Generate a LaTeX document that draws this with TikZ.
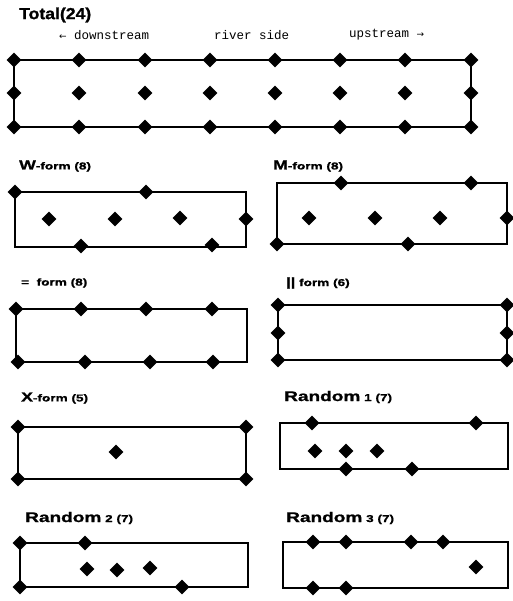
\documentclass[tikz,border=0pt]{standalone}
\usepackage{fontspec}
\setmainfont{Liberation Sans}
\newfontfamily\monof{Liberation Mono}
\newfontfamily\arrowf{DejaVu Sans}
\newfontfamily\widef[FakeStretch=1.36, BoldFeatures={FakeBold=1.2}]{Liberation Sans}
\newfontfamily\totf[FakeStretch=1.1, BoldFeatures={FakeBold=1.2}]{Liberation Sans}
\usetikzlibrary{shapes.geometric}
\tikzset{
  dia/.style={diamond, fill=black, draw=none, inner sep=0pt, minimum size=15pt},
  frame/.style={draw=black, line width=1.1pt},
  ttl/.style={anchor=west, inner sep=0pt, font=\widef\bfseries},
  lab/.style={anchor=west, inner sep=0pt, font=\monof\fontsize{12.5}{13}\selectfont}
}
\newcommand{\myBigT}[1]{{\fontsize{13}{14}\selectfont #1}}
\newcommand{\mySmT}[1]{{\fontsize{10}{11}\selectfont #1}}
\newcommand{\myRndT}[1]{{\fontsize{14}{15}\selectfont #1}}
\begin{document}
\begin{tikzpicture}[x=1pt,y=-1pt]
\useasboundingbox (0,0) rectangle (512,601);
% ---------- Total ----------
\node[ttl, font=\totf\bfseries\fontsize{16}{17}\selectfont] (tT) at (19,15) {Total(24)};
\node[lab] (l1) at (59,35) {{\arrowf\fontsize{9}{10}\selectfont ←} downstream};
\node[lab] (l2) at (214,35) {river side};
\node[lab] (l3) at (349,35) {upstream {\arrowf\fontsize{9}{10}\selectfont →}};
\draw[frame] (14,60) rectangle (471,127);
\foreach \x [count=\i] in {14,79,145,210,275,340,405,471} {
  \node[dia] (ta\i) at (\x,60) {};
  \node[dia] (tb\i) at (\x,93) {};
  \node[dia] (tc\i) at (\x,127) {};
}
% ---------- W-form ----------
\node[ttl] (tW) at (19,166) {\myBigT{W}\mySmT{-form (8)}};
\draw[frame] (15,192) rectangle (246,247);
\node[dia] (w1) at (15,192) {};
\node[dia] (w2) at (146,192) {};
\node[dia] (w3) at (49,219) {};
\node[dia] (w4) at (115,219) {};
\node[dia] (w5) at (180,218) {};
\node[dia] (w6) at (246,219) {};
\node[dia] (w7) at (81,246) {};
\node[dia] (w8) at (212,245) {};
% ---------- M-form ----------
\node[ttl] (tM) at (273,166) {\myBigT{M}\mySmT{-form (8)}};
\draw[frame] (277,183) rectangle (507,244);
\node[dia] (m1) at (341,183) {};
\node[dia] (m2) at (471,183) {};
\node[dia] (m3) at (309,218) {};
\node[dia] (m4) at (375,218) {};
\node[dia] (m5) at (440,218) {};
\node[dia] (m6) at (507,218) {};
\node[dia] (m7) at (277,244) {};
\node[dia] (m8) at (408,244) {};
% ---------- = form ----------
\node[ttl] (tE) at (21,283) {\mySmT{=\ \ form (8)}};
\draw[frame] (16,309) rectangle (247,362);
\foreach \x [count=\i] in {16,81,146,212} {\node[dia] (ea\i) at (\x,309) {};}
\foreach \x [count=\i] in {18,85,150,213} {\node[dia] (eb\i) at (\x,362) {};}
% ---------- || form ----------
\node[ttl] (tP) at (286,283) {\mySmT{{\fontsize{12}{13}\selectfont ||} form (6)}};
\draw[frame] (278,305) rectangle (507,360);
\foreach \y [count=\i] in {305,333,360} {
  \node[dia] (pa\i) at (278,\y) {};
  \node[dia] (pb\i) at (507,\y) {};
}
% ---------- X-form ----------
\node[ttl] (tX) at (21,398) {\myBigT{X}\mySmT{-form (5)}};
\draw[frame] (18,427) rectangle (246,479);
\node[dia] (x1) at (18,427) {};
\node[dia] (x2) at (246,427) {};
\node[dia] (x3) at (116,452) {};
\node[dia] (x4) at (18,479) {};
\node[dia] (x5) at (246,479) {};
% ---------- Random 1 ----------
\node[ttl] (tR1) at (284,397) {\myRndT{Random} \mySmT{1 (7)}};
\draw[frame] (280,423) rectangle (508,469);
\node[dia] (ra1) at (312,423) {};
\node[dia] (ra2) at (476,423) {};
\node[dia] (ra3) at (315,451) {};
\node[dia] (ra4) at (346,451) {};
\node[dia] (ra5) at (377,451) {};
\node[dia] (ra6) at (346,469) {};
\node[dia] (ra7) at (412,469) {};
% ---------- Random 2 ----------
\node[ttl] (tR2) at (25,518) {\myRndT{Random} \mySmT{2 (7)}};
\draw[frame] (20,543) rectangle (248,587);
\node[dia] (rb1) at (20,543) {};
\node[dia] (rb2) at (85,543) {};
\node[dia] (rb3) at (87,569) {};
\node[dia] (rb4) at (117,570) {};
\node[dia] (rb5) at (150,568) {};
\node[dia] (rb6) at (20,587) {};
\node[dia] (rb7) at (182,587) {};
% ---------- Random 3 ----------
\node[ttl] (tR3) at (286,518) {\myRndT{Random} \mySmT{3 (7)}};
\draw[frame] (283,542) rectangle (508,588);
\node[dia] (rc1) at (313,542) {};
\node[dia] (rc2) at (346,542) {};
\node[dia] (rc3) at (411,542) {};
\node[dia] (rc4) at (443,542) {};
\node[dia] (rc5) at (476,567) {};
\node[dia] (rc6) at (313,588) {};
\node[dia] (rc7) at (346,588) {};
\end{tikzpicture}
\end{document}
